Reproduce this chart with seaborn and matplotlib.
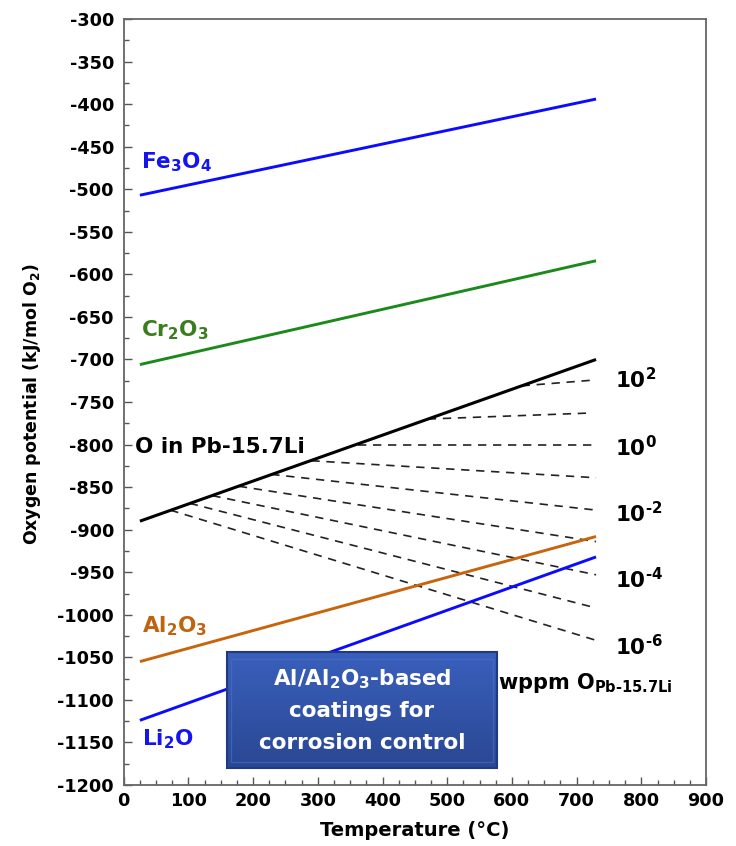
import numpy as np
import pandas as pd
import matplotlib
matplotlib.use("Agg")
import matplotlib.pyplot as plt
import seaborn as sns
from matplotlib.patches import Rectangle
from matplotlib.colors import LinearSegmentedColormap
from matplotlib.ticker import MultipleLocator

# ---------------- data ----------------
temps = [25, 730]
fe3o4 = [-507, -394]
cr2o3 = [-706, -584]
pbli = [-890, -700]
al2o3 = [-1055, -908]
li2o = [-1124, -932]

dash_exp = [2, 1, 0, -1, -2, -3, -4, -5, -6]
dash_T_start = [615, 470, 362, 290, 228, 178, 137, 102, 72]
dash_mu_start = [-731, -770, -800, -819, -835, -849, -860, -869, -877]
dash_T_end = [730, 718, 730, 730, 730, 730, 730, 725, 730]
dash_mu_end = [-724, -763, -800, -839, -877, -914, -953, -991, -1030]

conc_label_exp = ["2", "0", "‐2", "‐4", "‐6"]
conc_label_y = [-734, -814, -891, -969, -1047]

x_ticks = list(range(0, 901, 100))
y_ticks = list(range(-1200, -299, 50))

box_lines = ["Al/Al$_2$O$_3$-based", "coatings for", "corrosion control"]

# ---------------- style ----------------
sns.set_style("ticks")
plt.rcParams["font.family"] = ["DejaVu Sans"]
plt.rcParams["font.weight"] = "bold"
plt.rcParams["axes.labelweight"] = "bold"
plt.rcParams["mathtext.fontset"] = "dejavusans"
plt.rcParams["mathtext.default"] = "bf"
plt.rcParams["axes.unicode_minus"] = False
plt.rcParams["text.color"] = "black"
plt.rcParams["axes.labelcolor"] = "black"
plt.rcParams["xtick.labelcolor"] = "black"
plt.rcParams["ytick.labelcolor"] = "black"

fig = plt.figure(figsize=(7.36, 8.46), dpi=100)
ax = fig.add_axes([0.1681, 0.0721, 0.7912, 0.9054])

def line(y, color, lw=2.1):
    df = pd.DataFrame({"T": temps, "mu": y})
    sns.lineplot(data=df, x="T", y="mu", color=color, lw=lw, ax=ax,
                 solid_capstyle="butt", zorder=3)

line(fe3o4, "#0b0bff")
line(cr2o3, "#1b8a1b")
line(pbli, "black", lw=2.2)
line(al2o3, "#c8650c")
line(li2o, "#0b0bff")

for ts, ms, te, me in zip(dash_T_start, dash_mu_start, dash_T_end, dash_mu_end):
    df = pd.DataFrame({"T": [ts, te], "mu": [ms, me]})
    sns.lineplot(data=df, x="T", y="mu", color="#222222", lw=1.2, ax=ax,
                 linestyle=(0, (5, 4)), zorder=2)

# ---------------- axes ----------------
ax.set_xlim(0, 900)
ax.set_ylim(-1200, -300)
ax.set_xticks(x_ticks)
ax.set_yticks(y_ticks)
ax.xaxis.set_minor_locator(MultipleLocator(25))
ax.yaxis.set_minor_locator(MultipleLocator(25))
ax.tick_params(which="both", direction="in", color="#555555", width=1.0,
               labelcolor="black")
ax.tick_params(which="major", length=6, labelsize=12.7, pad=5)
ax.tick_params(which="minor", length=3.5)
ax.tick_params(axis="y", which="major", pad=7)
for lab in ax.get_xticklabels() + ax.get_yticklabels():
    lab.set_fontweight("bold")
for sp in ax.spines.values():
    sp.set_color("#666666")
    sp.set_linewidth(1.3)

ax.set_xlabel("Temperature (°C)", fontsize=14, fontweight="bold", color="black")
ax.set_ylabel("Oxygen potential (kJ/mol O$_2$)", fontsize=12.5, fontweight="bold",
              color="black")
ax.xaxis.set_label_coords(0.5, -0.047)
ax.yaxis.set_label_coords(-0.138, 0.497)

# ---------------- annotations ----------------
fs = 15.5
ax.text(27, -475.5, "Fe$_3$O$_4$", color="#1414f0", fontsize=fs, fontweight="bold", va="baseline")
ax.text(27, -672.5, "Cr$_2$O$_3$", color="#3b7d1d", fontsize=fs, fontweight="bold", va="baseline")
ax.text(17, -810.4, "O in Pb-15.7Li", color="black", fontsize=fs, fontweight="bold", va="baseline")
ax.text(28, -1021, "Al$_2$O$_3$", color="#c0630f", fontsize=fs, fontweight="bold", va="baseline")
ax.text(28, -1154, "Li$_2$O", color="#1414f0", fontsize=fs, fontweight="bold", va="baseline")

for e, yv in zip(conc_label_exp, conc_label_y):
    ax.text(759, yv, "10$^{" + e + "}$", color="black", fontsize=15.5,
            fontweight="bold", va="baseline")

ax.text(579, -1087.7, "wppm O$_{Pb‐15.7Li}$", color="black", fontsize=15,
        fontweight="bold", va="baseline")

# ---------------- box ----------------
bx0, bx1, by0, by1 = 160, 577, -1180.5, -1043.5
cmap = LinearSegmentedColormap.from_list("bx", ["#2a4793", "#3a60bd"])
grad = np.linspace(0, 1, 100).reshape(-1, 1)
ax.imshow(grad, extent=[bx0, bx1, by0, by1], origin="lower", cmap=cmap,
          aspect="auto", zorder=5, interpolation="bilinear")
ax.add_patch(Rectangle((bx0, by0), bx1 - bx0, by1 - by0, fill=False,
                       edgecolor="#1f3a80", lw=1.5, zorder=6))
ax.add_patch(Rectangle((bx0 + 6, by0 + 8), bx1 - bx0 - 12, by1 - by0 - 16, fill=False,
                       edgecolor="#4a70c8", lw=1.0, alpha=0.6, zorder=6))
ax.set_xlim(0, 900)
ax.set_ylim(-1200, -300)

for txt, yv in zip(box_lines, [-1082.6, -1120.6, -1157.8]):
    ax.text(368, yv, txt, color="white", fontsize=15.5, fontweight="bold",
            ha="center", va="baseline", zorder=7)

fig.savefig("out.png", dpi=100)
